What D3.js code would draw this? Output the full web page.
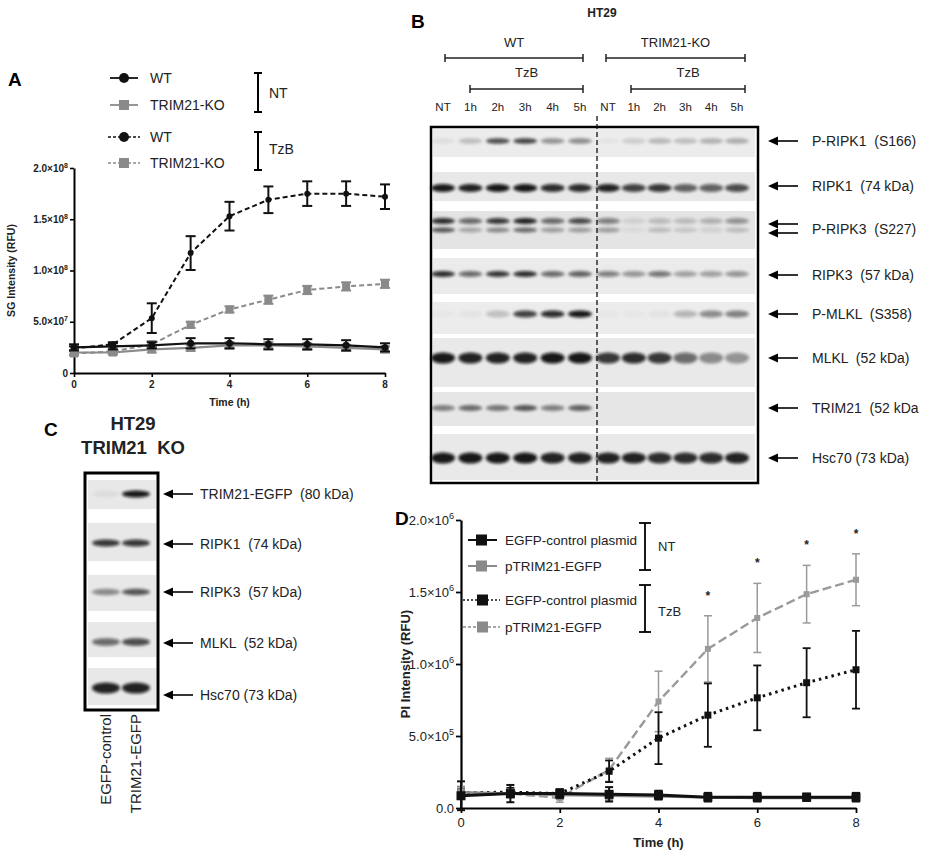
<!DOCTYPE html>
<html><head><meta charset="utf-8">
<script src="https://cdn.jsdelivr.net/npm/d3@7"></script>
<style>
body{margin:0;background:#fff}
text{font-family:"Liberation Sans",Arial,sans-serif;white-space:pre}
</style>
</head><body>
<svg id="fig" width="948" height="855"></svg>
<script>
// ---------------- DATA ----------------
const hours = [0,1,2,3,4,5,6,7,8];
// Panel A (SG intensity, x1e8 RFU)
const aUnit = 1e8;
const aWT_NT      = [0.25,0.26,0.27,0.29,0.29,0.28,0.28,0.27,0.25];
const aWT_NT_err  = [0.03,0.03,0.03,0.05,0.05,0.05,0.05,0.05,0.04];
const aKO_NT      = [0.20,0.20,0.23,0.245,0.27,0.27,0.26,0.245,0.23];
const aKO_NT_err  = [0.02,0.02,0.03,0.03,0.03,0.03,0.03,0.03,0.03];
const aWT_TzB     = [0.24,0.28,0.535,1.17,1.53,1.69,1.75,1.75,1.72];
const aWT_TzB_err = [0.02,0.02,0.145,0.165,0.14,0.13,0.12,0.12,0.12];
const aKO_TzB     = [0.19,0.21,0.28,0.47,0.62,0.715,0.81,0.845,0.87];
const aKO_TzB_err = [0.02,0.02,0.03,0.03,0.03,0.04,0.04,0.04,0.04];
const aYTicks = [0,0.5,1.0,1.5,2.0];
const aYTickLabels = [["0",""],["5.0×10","7"],["1.0×10","8"],["1.5×10","8"],["2.0×10","8"]];
const xTicks = [0,2,4,6,8];

// Panel D (PI intensity, x1e6 RFU)
const dUnit = 1e6;
const dEGFP_NT      = [0.085,0.10,0.10,0.095,0.09,0.075,0.075,0.075,0.075];
const dEGFP_NT_err  = [0.10,0.06,0.03,0.05,0.03,0.03,0.03,0.025,0.03];
const dTRIM_NT      = [0.11,0.10,0.09,0.085,0.08,0.075,0.07,0.07,0.07];
const dTRIM_NT_err  = [0.04,0.03,0.03,0.03,0.02,0.02,0.02,0.02,0.02];
const dEGFP_TzB     = [0.105,0.11,0.10,0.255,0.485,0.645,0.765,0.87,0.96];
const dEGFP_TzB_err = [0.03,0.03,0.03,0.075,0.18,0.22,0.225,0.24,0.27];
const dTRIM_TzB     = [0.09,0.10,0.07,0.265,0.74,1.105,1.32,1.485,1.585];
const dTRIM_TzB_err = [0.03,0.03,0.03,0.08,0.21,0.23,0.24,0.20,0.18];
const dSignificant  = [5,6,7,8];
const dYTicks = [0,0.5,1.0,1.5,2.0];
const dYTickLabels = [["0.0",""],["5.0×10","5"],["1.0×10","6"],["1.5×10","6"],["2.0×10","6"]];

// Panel B (western blot, relative band intensity per lane)
const bLanes = ["NT","1h","2h","3h","4h","5h"];
const bGroups = ["WT","TRIM21-KO"];
const bLabels = ["P-RIPK1  (S166)","RIPK1  (74 kDa)","P-RIPK3  (S227)","RIPK3  (57 kDa)","P-MLKL  (S358)","MLKL  (52 kDa)","TRIM21  (52 kDa","Hsc70 (73 kDa)"];
const bP_RIPK1   = [0.06,0.22,0.75,0.8,0.42,0.45, 0.03,0.15,0.25,0.22,0.28,0.3];
const bRIPK1     = [1.0,0.95,1.0,1.0,0.9,0.9, 0.95,0.8,0.85,0.65,0.65,0.75];
const bP_RIPK3_u = [0.9,0.6,0.85,0.95,0.6,0.75, 0.5,0.1,0.2,0.2,0.25,0.4];
const bP_RIPK3_l = [0.7,0.3,0.45,0.6,0.35,0.35, 0.35,0.05,0.2,0.15,0.1,0.2];
const bRIPK3     = [0.9,0.6,0.85,0.9,0.6,0.65, 0.5,0.4,0.55,0.35,0.35,0.4];
const bP_MLKL    = [0.02,0.04,0.2,0.8,0.9,1.0, 0.02,0.02,0.04,0.25,0.45,0.5];
const bMLKL      = [1.0,0.95,0.95,0.95,1.0,1.0, 0.85,0.9,0.85,0.6,0.45,0.4];
const bTRIM21    = [0.5,0.6,0.55,0.7,0.5,0.65, 0,0,0,0,0,0];
const bHsc70     = [1.0,1.0,1.0,1.0,0.95,0.95, 0.95,0.95,0.9,0.9,0.9,0.95];

// Panel C (western blot)
const cLanes = ["EGFP-control","TRIM21-EGFP"];
const cLabels = ["TRIM21-EGFP  (80 kDa)","RIPK1  (74 kDa)","RIPK3  (57 kDa)","MLKL  (52 kDa)","Hsc70 (73 kDa)"];
const cTRIM21EGFP = [0.05,1.0];
const cRIPK1 = [0.85,0.85];
const cRIPK3 = [0.45,0.7];
const cMLKL = [0.6,0.75];
const cHsc70 = [0.95,0.95];

// ---------------- DRAWING ----------------
const svg = d3.select("#fig");
const defs = svg.append("defs");
defs.append("filter").attr("id","blur").attr("x","-30%").attr("y","-150%").attr("width","160%").attr("height","400%")
  .append("feGaussianBlur").attr("stdDeviation",1.4);

const GRAY = "#8a8a8a";

function panelLetter(t,x,y){
  svg.append("text").attr("x",x).attr("y",y).attr("font-size",19).attr("font-weight","bold").text(t);
}

function lineChart(cfg){
  const g = svg.append("g");
  const x = d3.scaleLinear().domain([0,8]).range([cfg.x0,cfg.x1]);
  const y = d3.scaleLinear().domain([0,2.0]).range([cfg.y0,cfg.y1]);
  const ya = g.append("g").attr("transform",`translate(${cfg.x0},0)`)
    .call(d3.axisLeft(y).tickValues(cfg.yTicks).tickSize(cfg.tick).tickSizeOuter(0).tickFormat(""));
  const xa = g.append("g").attr("transform",`translate(0,${cfg.y0})`)
    .call(d3.axisBottom(x).tickValues(xTicks).tickSize(cfg.tick).tickSizeOuter(0).tickFormat(""));
  [ya,xa].forEach(a=>{a.select(".domain").attr("stroke","#000").attr("stroke-width",cfg.axisW);
    a.selectAll(".tick line").attr("stroke","#000").attr("stroke-width",cfg.axisW*0.8);});
  cfg.yTicks.forEach((v,i)=>{
    const t = g.append("text").attr("x",cfg.x0-cfg.tick-2).attr("y",y(v)+cfg.fs*0.35)
      .attr("text-anchor","end").attr("font-size",cfg.fs).attr("font-weight",cfg.fw).attr("fill","#222");
    t.append("tspan").text(cfg.yLabels[i][0]);
    if(cfg.yLabels[i][1]) t.append("tspan").attr("dy",-cfg.fs*0.4).attr("font-size",cfg.fs*0.7).text(cfg.yLabels[i][1]);
  });
  xTicks.forEach(v=>{
    g.append("text").attr("x",x(v)).attr("y",cfg.y0+cfg.tick+cfg.fs+1).attr("text-anchor","middle")
      .attr("font-size",cfg.fs).attr("font-weight",cfg.fw).attr("fill","#222").text(v);
  });
  g.append("text").attr("x",(cfg.x0+cfg.x1)/2).attr("y",cfg.xLabelY).attr("text-anchor","middle")
    .attr("font-size",cfg.labelFs).attr("font-weight","bold").attr("fill","#222").text("Time (h)");
  g.append("text").attr("transform",`translate(${cfg.yLabelX},${(cfg.y0+cfg.y1)/2}) rotate(-90)`)
    .attr("text-anchor","middle").attr("font-size",cfg.labelFs).attr("font-weight","bold").attr("fill","#222").text(cfg.yTitle);
  cfg.series.forEach(s=>{
    const pts = hours.map((h,i)=>({h,v:s.v[i],e:s.e[i]}));
    g.append("path").datum(pts).attr("fill","none").attr("stroke",s.color).attr("stroke-width",s.w)
      .attr("stroke-dasharray",s.dash||null)
      .attr("d",d3.line().x(d=>x(d.h)).y(d=>y(d.v)));
    const eb = g.append("g").attr("stroke",s.color).attr("stroke-width",s.ew);
    pts.forEach(d=>{
      const cw = s.cap;
      eb.append("line").attr("x1",x(d.h)).attr("x2",x(d.h)).attr("y1",y(d.v-d.e)).attr("y2",y(d.v+d.e));
      eb.append("line").attr("x1",x(d.h)-cw).attr("x2",x(d.h)+cw).attr("y1",y(d.v+d.e)).attr("y2",y(d.v+d.e));
      eb.append("line").attr("x1",x(d.h)-cw).attr("x2",x(d.h)+cw).attr("y1",y(d.v-d.e)).attr("y2",y(d.v-d.e));
    });
    pts.forEach(d=>{
      if(s.marker==="circle") g.append("circle").attr("cx",x(d.h)).attr("cy",y(d.v)).attr("r",s.size/2).attr("fill",s.color);
      else g.append("rect").attr("x",x(d.h)-s.size/2).attr("y",y(d.v)-s.size/2).attr("width",s.size).attr("height",s.size).attr("fill",s.color);
    });
  });
  return {x,y,g};
}

function legendRow(x1,x2,y,cfg){
  svg.append("line").attr("x1",x1).attr("x2",x2).attr("y1",y).attr("y2",y)
    .attr("stroke",cfg.color).attr("stroke-width",cfg.w).attr("stroke-dasharray",cfg.dash||null);
  const mx=(x1+x2)/2+(cfg.shift||0);
  if(cfg.marker==="circle") svg.append("circle").attr("cx",mx).attr("cy",y).attr("r",cfg.size/2).attr("fill",cfg.color);
  else svg.append("rect").attr("x",mx-cfg.size/2).attr("y",y-cfg.size/2).attr("width",cfg.size).attr("height",cfg.size).attr("fill",cfg.color);
  svg.append("text").attr("x",cfg.tx).attr("y",y+5).attr("font-size",cfg.fs).attr("fill","#222").attr("font-family",cfg.font||null).text(cfg.text);
}
function bracket(x,y1,y2,w,cw,label,lx,ly,fs){
  const b=svg.append("g").attr("stroke","#000").attr("stroke-width",w);
  b.append("line").attr("x1",x).attr("x2",x).attr("y1",y1).attr("y2",y2);
  b.append("line").attr("x1",x-cw).attr("x2",x+cw).attr("y1",y1).attr("y2",y1);
  b.append("line").attr("x1",x-cw).attr("x2",x+cw).attr("y1",y2).attr("y2",y2);
  svg.append("text").attr("x",lx).attr("y",ly).attr("font-size",fs).attr("fill","#222").text(label);
}
function arrowLabel(x1,x2,y,label,tx,fs){
  svg.append("line").attr("x1",x1+6).attr("x2",x2).attr("y1",y).attr("y2",y).attr("stroke","#000").attr("stroke-width",1.6);
  svg.append("path").attr("d",`M${x1},${y} L${x1+10},${y-4.5} L${x1+10},${y+4.5} Z`).attr("fill","#000");
  if(label) svg.append("text").attr("x",tx).attr("y",y+5).attr("font-size",fs).attr("fill","#222").text(label);
}

// ===== Panel A =====
panelLetter("A",8,86);
lineChart({x0:74,x1:385,y0:373,y1:168,tick:4,axisW:2,fs:10,fw:"bold",labelFs:10.5,xLabelY:406,yLabelX:15,
  yTitle:"SG Intensity (RFU)",yTicks:aYTicks,yLabels:aYTickLabels,
  series:[
    {v:aKO_TzB,e:aKO_TzB_err,color:GRAY,w:2,dash:"5,3",marker:"rect",size:8,ew:2,cap:5},
    {v:aWT_TzB,e:aWT_TzB_err,color:"#111",w:2,dash:"5,3",marker:"circle",size:6,ew:2,cap:5},
    {v:aKO_NT,e:aKO_NT_err,color:GRAY,w:2.2,marker:"rect",size:8,ew:2,cap:5},
    {v:aWT_NT,e:aWT_NT_err,color:"#111",w:2.2,marker:"circle",size:7,ew:2,cap:5}
  ]});
legendRow(110,138,78,{color:"#111",w:1.8,marker:"circle",size:10,tx:150,fs:14,text:"WT"});
legendRow(110,138,105,{color:GRAY,w:1.8,marker:"rect",size:10,tx:150,fs:14,text:"TRIM21-KO"});
legendRow(108,140,137,{color:"#111",w:1.5,dash:"3,2",marker:"circle",size:10,tx:150,fs:14,text:"WT"});
legendRow(108,140,163,{color:GRAY,w:1.5,dash:"3,2",marker:"rect",size:10,tx:150,fs:14,text:"TRIM21-KO"});
bracket(258,73,112,2,4,"NT",269,98,14);
bracket(258,132,170,2,4,"TzB",269,154,14);

// ===== Panel B =====
panelLetter("B",411,28);
svg.append("text").attr("x",602).attr("y",17).attr("text-anchor","middle").attr("font-size",12).attr("font-weight","bold").attr("fill","#222").text("HT29");
function hBracket(x1,x2,y){
  const b=svg.append("g").attr("stroke","#222").attr("stroke-width",1.5);
  b.append("line").attr("x1",x1).attr("x2",x2).attr("y1",y).attr("y2",y);
  b.append("line").attr("x1",x1).attr("x2",x1).attr("y1",y-4).attr("y2",y+4);
  b.append("line").attr("x1",x2).attr("x2",x2).attr("y1",y-4).attr("y2",y+4);
}
const bWT = d3.scalePoint().domain(bLanes).range([443,580]);
const bKO = d3.scalePoint().domain(bLanes).range([608,737]);
[[bWT,445,583,470,bGroups[0]],[bKO,606,745,631,bGroups[1]]].forEach(([sc,x1,x2,tx1,name])=>{
  svg.append("text").attr("x",(x1+x2)/2).attr("y",47).attr("text-anchor","middle").attr("font-size",13).attr("fill","#222").text(name);
  hBracket(x1,x2,58);
  svg.append("text").attr("x",(tx1+x2)/2).attr("y",77).attr("text-anchor","middle").attr("font-size",13).attr("fill","#222").text("TzB");
  hBracket(tx1,x2,89);
  bLanes.forEach(l=>svg.append("text").attr("x",sc(l)).attr("y",111).attr("text-anchor","middle").attr("font-size",11.5).attr("fill","#222").text(l));
});
const bLaneX = bLanes.map(l=>bWT(l)).concat(bLanes.map(l=>bKO(l)));
const bRows = [
  {top:129,bot:157,bands:[[bP_RIPK1,141,2.8]],arrows:[141]},
  {top:172,bot:201,bands:[[bRIPK1,188,4]],arrows:[186]},
  {top:211,bot:249,bands:[[bP_RIPK3_u,221,3],[bP_RIPK3_l,230,2.6]],arrows:[224,233]},
  {top:258,bot:294,bands:[[bRIPK3,274,3]],arrows:[275]},
  {top:302,bot:334,bands:[[bP_MLKL,314,3.6]],arrows:[314]},
  {top:338,bot:387,bands:[[bMLKL,358,5.5]],arrows:[358]},
  {top:392,bot:426,bands:[[bTRIM21,408,3]],arrows:[408]},
  {top:434,bot:480,bands:[[bHsc70,458,5.5]],arrows:[458]}
];
const bFill = ["#ececec","#e8e8e8","#e4e4e4","#ebebeb","#ececec","#e9e9e9","#e6e6e6","#e9e9e9"];
bRows.forEach((r,ri)=>{
  svg.append("rect").attr("x",433).attr("y",r.top).attr("width",322).attr("height",r.bot-r.top).attr("fill",bFill[ri]);
  r.bands.forEach(([vals,cy,ry])=>{
    vals.forEach((v,i)=>{
      if(v<=0) return;
      svg.append("ellipse").attr("cx",bLaneX[i]).attr("cy",cy).attr("rx",12).attr("ry",ry)
        .attr("fill","#0a0a0a").attr("opacity",Math.min(1,v*0.95)).attr("filter","url(#blur)");
    });
  });
  r.arrows.forEach(ay=>arrowLabel(768,798,ay,null,812,14));
  const ly = r.arrows.length>1 ? (r.arrows[0]+r.arrows[1])/2 : r.arrows[0];
  svg.append("text").attr("x",812).attr("y",ly+5).attr("font-size",14).attr("fill","#222").text(bLabels[ri]);
});
svg.append("rect").attr("x",431).attr("y",127).attr("width",327).attr("height",356).attr("fill","none").attr("stroke","#000").attr("stroke-width",2.5);
svg.append("line").attr("x1",597).attr("x2",597).attr("y1",116).attr("y2",483).attr("stroke","#111").attr("stroke-width",1.3).attr("stroke-dasharray","5,3");

// ===== Panel C =====
panelLetter("C",44,436);
svg.append("text").attr("x",133).attr("y",430).attr("text-anchor","middle").attr("font-size",18.5).attr("font-weight","bold").attr("fill","#222").text("HT29");
svg.append("text").attr("x",133).attr("y",454).attr("text-anchor","middle").attr("font-size",18.5).attr("font-weight","bold").attr("fill","#222").text("TRIM21  KO");
const cX = d3.scalePoint().domain(cLanes).range([106,136]);
const cRows = [
  {top:480,bot:509,vals:cTRIM21EGFP,cy:494,ry:3.5,ay:494},
  {top:523,bot:561,vals:cRIPK1,cy:543,ry:3.5,ay:544},
  {top:575,bot:611,vals:cRIPK3,cy:592,ry:3.2,ay:592},
  {top:622,bot:657,vals:cMLKL,cy:642,ry:3.8,ay:643},
  {top:668,bot:705,vals:cHsc70,cy:688,ry:5.5,ay:695}
];
cRows.forEach((r,ri)=>{
  svg.append("rect").attr("x",88).attr("y",r.top).attr("width",68).attr("height",r.bot-r.top).attr("fill","#e8e8e8");
  r.vals.forEach((v,i)=>{
    svg.append("ellipse").attr("cx",cX(cLanes[i])).attr("cy",r.cy).attr("rx",14).attr("ry",r.ry)
      .attr("fill","#0a0a0a").attr("opacity",v*0.95).attr("filter","url(#blur)");
  });
  arrowLabel(163,193,r.ay,cLabels[ri],200,14);
});
svg.append("rect").attr("x",85).attr("y",473).attr("width",73).attr("height",237).attr("fill","none").attr("stroke","#000").attr("stroke-width",3);
cLanes.forEach(l=>{
  svg.append("text").attr("transform",`translate(${cX(l)+5},714) rotate(-90)`).attr("text-anchor","end")
    .attr("font-size",15).attr("fill","#222").text(l);
});

// ===== Panel D =====
panelLetter("D",395,525);
const D = lineChart({x0:461,x1:856,y0:808,y1:520,tick:5,axisW:2.2,fs:13,fw:"normal",labelFs:13,xLabelY:847,yLabelX:410,
  yTitle:"PI Intensity (RFU)",yTicks:dYTicks,yLabels:dYTickLabels,
  series:[
    {v:dTRIM_TzB,e:dTRIM_TzB_err,color:"#9a9a9a",w:2.4,dash:"9,4",marker:"rect",size:6,ew:1.5,cap:4},
    {v:dEGFP_TzB,e:dEGFP_TzB_err,color:"#111",w:3,dash:"2.5,4",marker:"rect",size:7,ew:1.8,cap:4},
    {v:dTRIM_NT,e:dTRIM_NT_err,color:GRAY,w:2.5,marker:"rect",size:8,ew:1.5,cap:4},
    {v:dEGFP_NT,e:dEGFP_NT_err,color:"#111",w:3,marker:"rect",size:9,ew:2,cap:4}
  ]});
dSignificant.forEach(h=>{
  const i = hours.indexOf(h);
  D.g.append("text").attr("x",D.x(h)).attr("y",D.y(dTRIM_TzB[i]+dTRIM_TzB_err[i])-16).attr("text-anchor","middle")
    .attr("font-size",12).attr("font-weight","bold").attr("fill","#222").text("*");
});
const dFont = "'Open Sans','Liberation Sans',sans-serif";
legendRow(468,497,540,{color:"#111",w:2,marker:"rect",size:11,tx:505,fs:13.5,text:"EGFP-control plasmid",font:dFont,shift:-1});
legendRow(468,497,566,{color:GRAY,w:2,marker:"rect",size:11,tx:505,fs:13.5,text:"pTRIM21-EGFP",font:dFont,shift:-1});
legendRow(463,500,600,{color:"#111",w:1.5,dash:"2,2",marker:"rect",size:11,tx:505,fs:13.5,text:"EGFP-control plasmid",font:dFont,shift:1});
legendRow(463,500,627,{color:GRAY,w:1.5,dash:"3,2",marker:"rect",size:11,tx:505,fs:13.5,text:"pTRIM21-EGFP",font:dFont,shift:1});
bracket(645,523,570,1.8,6,"NT",658,551,13);
bracket(645,585,632,1.8,6,"TzB",658,616,13);
</script>
</body></html>
